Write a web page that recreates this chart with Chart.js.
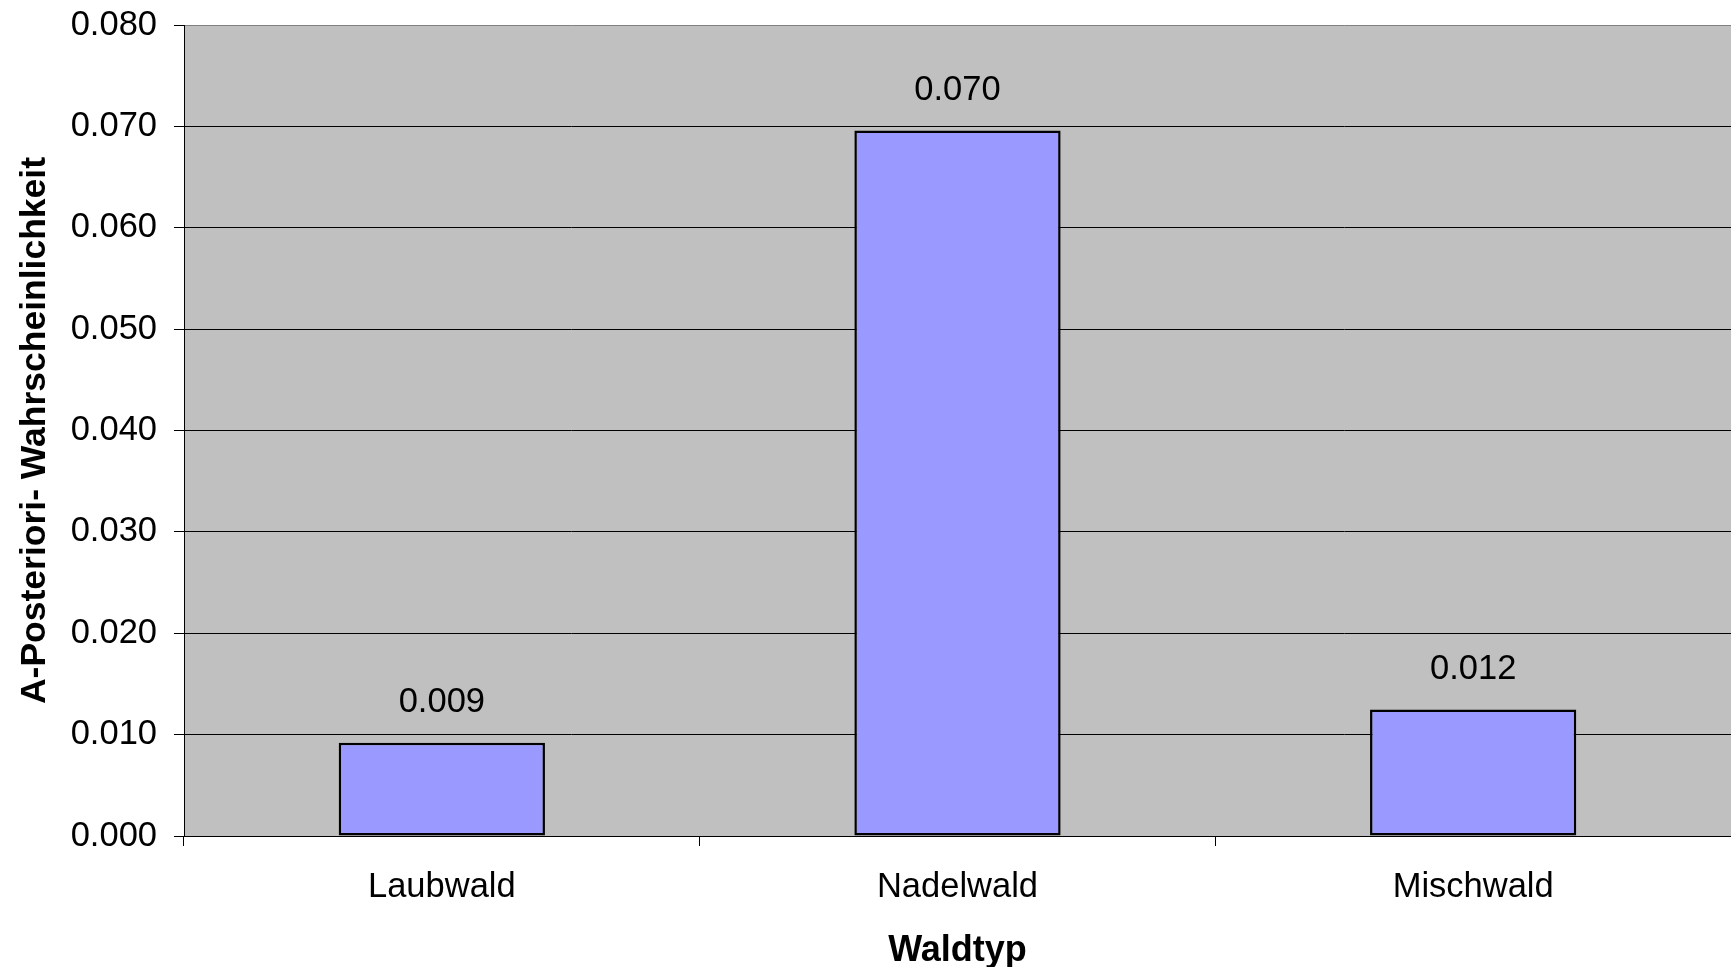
<!DOCTYPE html>
<html>
<head>
<meta charset="utf-8">
<script src="https://cdn.jsdelivr.net/npm/chart.js@4"></script>
<style>
  html, body { margin: 0; padding: 0; background: #fff; }
  #wrap { width: 1731px; height: 967px; position: relative; }
</style>
</head>
<body>
<div id="wrap"><canvas id="waldChart"></canvas></div>
<script>
// Kategorien und Werte aus dem Diagramm
const waldtypen = ['Laubwald', 'Nadelwald', 'Mischwald'];
const posterioriWerte = [0.0092, 0.0696, 0.01249];
const yMin = 0;
const yMax = 0.08;
const yStep = 0.01;

const FONT = '"Liberation Sans", Arial, sans-serif';

// grauer Hintergrund der Zeichenfläche
const plotBackground = {
    id: 'plotBackground',
    beforeDraw(chart) {
        const { ctx, chartArea: a } = chart;
        ctx.save();
        ctx.fillStyle = '#c0c0c0';
        ctx.fillRect(a.left, a.top, a.right - a.left, a.bottom - a.top);
        ctx.restore();
    }
};

// Datenbeschriftungen über den Säulen
const valueLabels = {
    id: 'valueLabels',
    afterDatasetsDraw(chart) {
        const ctx = chart.ctx;
        const meta = chart.getDatasetMeta(0);
        ctx.save();
        ctx.font = '34.5px ' + FONT;
        ctx.fillStyle = '#000';
        ctx.textAlign = 'center';
        ctx.textBaseline = 'middle';
        meta.data.forEach((bar, i) => {
            const v = chart.data.datasets[0].data[i];
            ctx.fillText(v.toFixed(3), bar.x, bar.y - 40);
        });
        ctx.restore();
    }
};

new Chart(document.getElementById('waldChart'), {
    type: 'bar',
    data: {
        labels: waldtypen,
        datasets: [{
            data: posterioriWerte,
            backgroundColor: '#9999ff',
            borderColor: '#000',
            borderWidth: 2.5,
            borderSkipped: false,
            barPercentage: 0.4,
            categoryPercentage: 1
        }]
    },
    options: {
        responsive: true,
        maintainAspectRatio: false,
        animation: false,
        layout: { padding: { top: 25, right: 0, bottom: 0, left: 0 } },
        plugins: {
            legend: { display: false },
            tooltip: { enabled: false }
        },
        scales: {
            x: {
                afterFit(scale) { scale.height = 131; },
                grid: {
                    offset: true,
                    drawOnChartArea: false,
                    tickLength: 10,
                    tickColor: '#000'
                },
                border: { display: true, color: '#000', width: 1 },
                ticks: {
                    color: '#000',
                    padding: 21,
                    font: { family: FONT, size: 34.5 }
                },
                title: {
                    display: true,
                    text: 'Waldtyp',
                    color: '#000',
                    padding: { top: 0, bottom: 0 },
                    font: { family: FONT, size: 36, weight: 'bold', lineHeight: 0.9 }
                }
            },
            y: {
                min: yMin,
                max: yMax,
                afterFit(scale) {
                    scale.width = 184;
                    scale.paddingTop = 0;
                    scale.paddingBottom = 0;
                },
                grid: {
                    color: ctx => (ctx.tick && ctx.tick.value >= yMax - 1e-9) ? '#808080' : '#000',
                    lineWidth: 1,
                    tickLength: 10,
                    tickColor: '#000'
                },
                border: { display: true, color: '#000', width: 1 },
                ticks: {
                    stepSize: yStep,
                    color: '#000',
                    padding: 17,
                    font: { family: FONT, size: 34.5 },
                    callback: v => Number(v).toFixed(3)
                },
                title: {
                    display: true,
                    text: 'A-Posteriori- Wahrscheinlichkeit',
                    color: '#000',
                    padding: { top: 14, bottom: 0 },
                    font: { family: FONT, size: 35.5, weight: 'bold' }
                }
            }
        }
    },
    plugins: [plotBackground, valueLabels]
});
</script>
</body>
</html>
